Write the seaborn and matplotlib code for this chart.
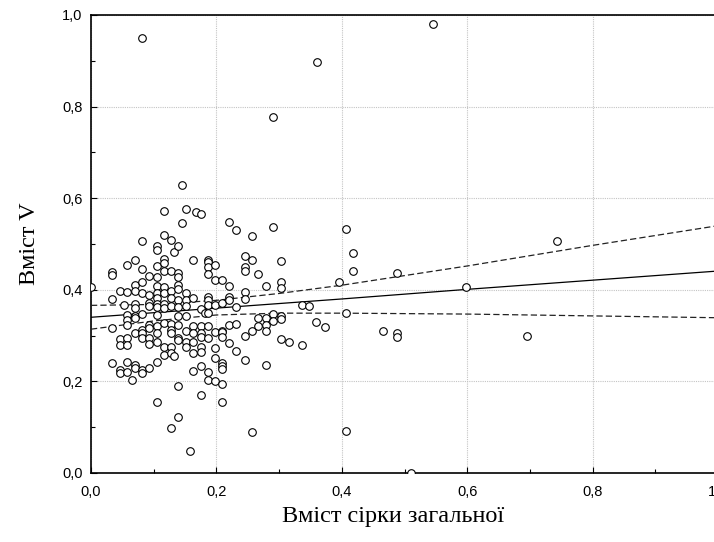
import matplotlib
matplotlib.use("Agg")
import matplotlib.pyplot as plt
import numpy as np
import pandas as pd
import seaborn as sns
from matplotlib.ticker import FixedLocator, MultipleLocator

# x columns (sulfur content) and how many samples sit on each column
sulfur_levels = [
    0.000, 0.034, 0.047, 0.053, 0.058, 0.066, 0.070, 0.081, 0.093, 0.105,
    0.116, 0.128, 0.132, 0.139, 0.145, 0.151, 0.158, 0.162, 0.167, 0.175,
    0.182, 0.186, 0.198, 0.209, 0.220, 0.231, 0.245, 0.256, 0.267, 0.279,
    0.290, 0.303, 0.315, 0.337, 0.348, 0.359, 0.360, 0.373, 0.396, 0.407,
    0.418, 0.465, 0.488, 0.510, 0.546, 0.598, 0.696, 0.743,
]
points_per_level = [
    1, 5, 5, 1, 9, 1, 10, 11, 9, 15,
    12, 11, 2, 13, 2, 8, 1, 7, 1, 9,
    1, 12, 7, 10, 6, 4, 7, 4, 3, 5,
    4, 6, 1, 2, 1, 1, 1, 1, 1, 3,
    2, 1, 3, 1, 1, 1, 1, 1,
]
# vanadium content, listed column by column in the same order
vanadium = [
    0.406,
    0.438, 0.432, 0.380, 0.316, 0.241,
    0.398, 0.292, 0.280, 0.225, 0.219,
    0.367,
    0.455, 0.396, 0.345, 0.333, 0.323, 0.294, 0.280, 0.243, 0.221,
    0.202,
    0.466, 0.411, 0.398, 0.369, 0.360, 0.342, 0.338, 0.305, 0.236, 0.229,
    0.950, 0.507, 0.445, 0.416, 0.393, 0.348, 0.313, 0.305, 0.294, 0.225, 0.219,
    0.431, 0.389, 0.371, 0.364, 0.323, 0.316, 0.294, 0.281, 0.229,
    0.495, 0.486, 0.452, 0.429, 0.409, 0.394, 0.383, 0.369, 0.362, 0.345,
    0.321, 0.305, 0.287, 0.243, 0.156,
    0.571, 0.520, 0.467, 0.458, 0.440, 0.407, 0.393, 0.369, 0.360, 0.327, 0.276, 0.258,
    0.508, 0.440, 0.398, 0.382, 0.364, 0.326, 0.313, 0.305, 0.276, 0.263, 0.099,
    0.482, 0.256,
    0.496, 0.436, 0.428, 0.411, 0.401, 0.378, 0.362, 0.342, 0.323, 0.294, 0.290, 0.189, 0.122,
    0.628, 0.546,
    0.576, 0.394, 0.378, 0.364, 0.343, 0.309, 0.287, 0.276,
    0.047,
    0.466, 0.383, 0.320, 0.305, 0.285, 0.262, 0.223,
    0.569,
    0.566, 0.358, 0.321, 0.305, 0.297, 0.276, 0.265, 0.234, 0.170,
    0.349,
    0.466, 0.460, 0.450, 0.434, 0.385, 0.377, 0.367, 0.350, 0.321, 0.294, 0.221, 0.202,
    0.455, 0.422, 0.367, 0.307, 0.274, 0.251, 0.200,
    0.422, 0.371, 0.309, 0.307, 0.297, 0.240, 0.233, 0.227, 0.195, 0.156,
    0.548, 0.409, 0.385, 0.377, 0.323, 0.283,
    0.530, 0.362, 0.326, 0.267,
    0.473, 0.450, 0.440, 0.396, 0.380, 0.300, 0.246,
    0.517, 0.466, 0.310, 0.090,
    0.434, 0.339, 0.320,
    0.409, 0.339, 0.323, 0.310, 0.236,
    0.777, 0.538, 0.348, 0.331,
    0.463, 0.416, 0.404, 0.342, 0.336, 0.292,
    0.287,
    0.367, 0.280,
    0.364,
    0.329,
    0.897,
    0.318,
    0.416,
    0.533, 0.349, 0.091,
    0.481, 0.442,
    0.310,
    0.437, 0.305, 0.298,
    0.000,
    0.981,
    0.406,
    0.300,
    0.506,
]

# regression line and its 95% band
fit_x = [0.0, 0.1, 0.2, 0.3, 0.4, 0.6, 0.8, 1.0]
fit_y = [0.340, 0.350, 0.360, 0.370, 0.380, 0.401, 0.421, 0.441]
ci_upper = [0.366, 0.368, 0.377, 0.392, 0.410, 0.452, 0.497, 0.540]
ci_lower = [0.314, 0.332, 0.345, 0.349, 0.349, 0.347, 0.343, 0.339]

tick_values = [0.0, 0.2, 0.4, 0.6, 0.8, 1.0]
x_tick_labels = ["0,0", "0,2", "0,4", "0,6", "0,8", "1,0"]
y_tick_labels = ["0,0", "0,2", "0,4", "0,6", "0,8", "1,0"]

x_label = "Вміст сірки загальної"
y_label = "Вміст V"

assert sum(points_per_level) == len(vanadium)

sns.set_theme(style="white")
plt.rcParams["font.family"] = ["Liberation Sans", "DejaVu Sans"]
serif = ["Liberation Serif", "DejaVu Serif"]

df = pd.DataFrame({
    "sulfur": np.repeat(sulfur_levels, points_per_level),
    "vanadium": vanadium,
})

fig = plt.figure(figsize=(7.14, 5.42), dpi=100)
# the plot box runs slightly past the right edge of the picture, as in the original
ax = fig.add_axes([91 / 714, 69 / 542, 627 / 714, 458 / 542])

sns.lineplot(x=fit_x, y=fit_y, ax=ax, color="black", linewidth=0.9,
             estimator=None, sort=False, zorder=3)
for band in (ci_upper, ci_lower):
    sns.lineplot(x=fit_x, y=band, ax=ax, color="#222222", linewidth=0.9,
                 linestyle=(0, (5, 2.5)), estimator=None, sort=False, zorder=3)

sns.scatterplot(data=df, x="sulfur", y="vanadium", ax=ax, marker="o", s=30,
                color="white", edgecolor="black", linewidth=0.8, zorder=4)

ax.set_xlim(0, 1)
ax.set_ylim(0, 1)
ax.xaxis.set_major_locator(FixedLocator(tick_values))
ax.yaxis.set_major_locator(FixedLocator(tick_values))
ax.set_xticklabels(x_tick_labels)
ax.set_yticklabels(y_tick_labels)
ax.xaxis.set_minor_locator(MultipleLocator(0.1))
ax.yaxis.set_minor_locator(MultipleLocator(0.1))

ax.tick_params(which="both", direction="in", color="black", bottom=True, left=True,
               top=False, right=False, width=0.8, labelcolor="black")
ax.tick_params(which="major", length=4)
ax.tick_params(which="minor", length=3)
ax.tick_params(axis="x", pad=8.5, labelsize=10.5)
ax.tick_params(axis="y", pad=6, labelsize=10.5)

ax.grid(True, which="major", color="#c4c4c4", linestyle=(0, (1, 1)), linewidth=0.8)
ax.set_axisbelow(True)
for spine in ax.spines.values():
    spine.set_color("black")
    spine.set_linewidth(1.2)

ax.set_xlabel(x_label, fontsize=17.5, family=serif, color="black")
ax.set_ylabel(y_label, fontsize=17.5, family=serif, color="black")
ax.xaxis.set_label_coords(0.482, -0.073)
ax.yaxis.set_label_coords(-0.081, 0.5)

fig.savefig("out.png", dpi=100)
